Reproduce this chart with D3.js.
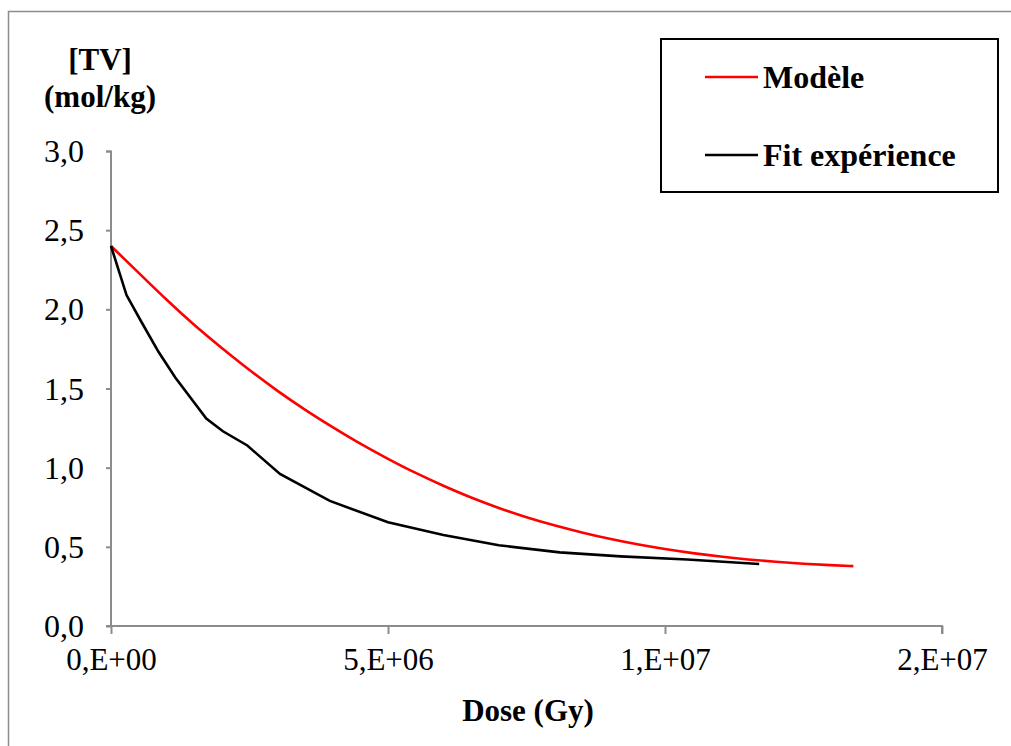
<!DOCTYPE html>
<html><head><meta charset="utf-8">
<script src="https://cdn.jsdelivr.net/npm/d3@7"></script>
</head>
<body style="margin:0;background:#fff"><svg id="c" width="1011" height="746"></svg>
<script>
// Model (red): dose in Gy, [TV] in mol/kg
const modelDose = [0,0.5e6,1e6,1.5e6,2e6,2.5e6,3e6,3.5e6,4e6,4.5e6,5e6,5.5e6,6e6,6.5e6,7e6,7.5e6,8e6,8.5e6,9e6,9.5e6,1e7,1.05e7,1.1e7,1.15e7,1.2e7,1.25e7,1.3e7,1.34e7];
const modelTV   = [2.40,2.23,2.06,1.90,1.755,1.615,1.485,1.365,1.255,1.15,1.055,0.965,0.885,0.81,0.745,0.685,0.635,0.59,0.55,0.515,0.485,0.46,0.438,0.42,0.405,0.393,0.384,0.378];
// Fit expérience (black)
const fitDose = [0,0.28e6,0.55e6,0.86e6,1.16e6,1.72e6,2.02e6,2.46e6,3.05e6,3.95e6,5.0e6,6.0e6,7.0e6,8.1e6,9.2e6,1.04e7,1.17e7];
const fitTV   = [2.40,2.09,1.92,1.73,1.57,1.31,1.23,1.14,0.96,0.79,0.655,0.575,0.51,0.465,0.44,0.42,0.392];
const xTicks = [0,5e6,1e7,1.5e7];
const xTickLabels = ["0,E+00","5,E+06","1,E+07","2,E+07"];
const yTicks = [0,0.5,1.0,1.5,2.0,2.5,3.0];
const seriesNames = ["Modèle","Fit expérience"];
const seriesColors = ["#ff0000","#000000"];

const FONT = '"Liberation Serif"';
const svg = d3.select("#c");
// outer chart frame
svg.append("rect").attr("x",8.5).attr("y",11.5).attr("width",1100).attr("height",800)
  .attr("fill","none").attr("stroke","#8c8c8c").attr("stroke-width",1.5);

const x = d3.scaleLinear().domain([0,1.5e7]).range([111,942]);
const y = d3.scaleLinear().domain([0,3]).range([626,151]);

// y axis
const yAxis = svg.append("g").attr("transform","translate(111,0)")
  .call(d3.axisLeft(y).tickValues(yTicks).tickSize(5).tickPadding(22)
    .tickFormat(d=>d3.format(".1f")(d).replace(".",",")));
yAxis.attr("font-family",null);
yAxis.selectAll("path,line").attr("stroke","#8c8c8c").attr("stroke-width",2);
yAxis.select(".domain").attr("d","M-5,151.5H0V626");
yAxis.selectAll("text").style("font-family",FONT).attr("font-size",32).attr("fill","#000").attr("dy","0.33em");

// x axis
const xAxis = svg.append("g").attr("transform","translate(0,626)")
  .call(d3.axisBottom(x).tickValues(xTicks).tickSize(8).tickPadding(14)
    .tickFormat((d,i)=>xTickLabels[i]));
xAxis.attr("font-family",null);
xAxis.selectAll("path,line").attr("stroke","#8c8c8c").attr("stroke-width",2);
xAxis.select(".domain").attr("d","M106,0H942V8");
xAxis.selectAll("text").style("font-family",FONT).attr("font-size",31).attr("fill","#000").attr("dy","0.71em");

// axis titles
function title(tx,ty,t){
  svg.append("text").attr("x",tx).attr("y",ty).attr("text-anchor","middle")
    .style("font-family",FONT).attr("font-size",31).attr("font-weight","bold").text(t);
}
title(528,721,"Dose (Gy)");
title(100,70,"[TV]");
title(100,107,"(mol/kg)");

// lines
const modelData = modelDose.map((d,i)=>[d,modelTV[i]]);
const fitData = fitDose.map((d,i)=>[d,fitTV[i]]);
svg.append("path").datum(modelData)
  .attr("d",d3.line().x(d=>x(d[0])).y(d=>y(d[1])).curve(d3.curveBasis))
  .attr("fill","none").attr("stroke",seriesColors[0]).attr("stroke-width",2.6);
svg.append("path").datum(fitData)
  .attr("d",d3.line().x(d=>x(d[0])).y(d=>y(d[1])))
  .attr("fill","none").attr("stroke",seriesColors[1]).attr("stroke-width",2.6);

// legend
svg.append("rect").attr("x",661).attr("y",39).attr("width",337).attr("height",153)
  .attr("fill","#fff").attr("stroke","#000").attr("stroke-width",2);
const ly = [77,155];
seriesNames.forEach((n,i)=>{
  svg.append("line").attr("x1",705).attr("x2",758).attr("y1",ly[i]).attr("y2",ly[i])
    .attr("stroke",seriesColors[i]).attr("stroke-width",2.6);
  svg.append("text").attr("x",763).attr("y",ly[i]+11)
    .style("font-family",FONT).attr("font-size",32).attr("font-weight","bold").text(n);
});
</script></body></html>
